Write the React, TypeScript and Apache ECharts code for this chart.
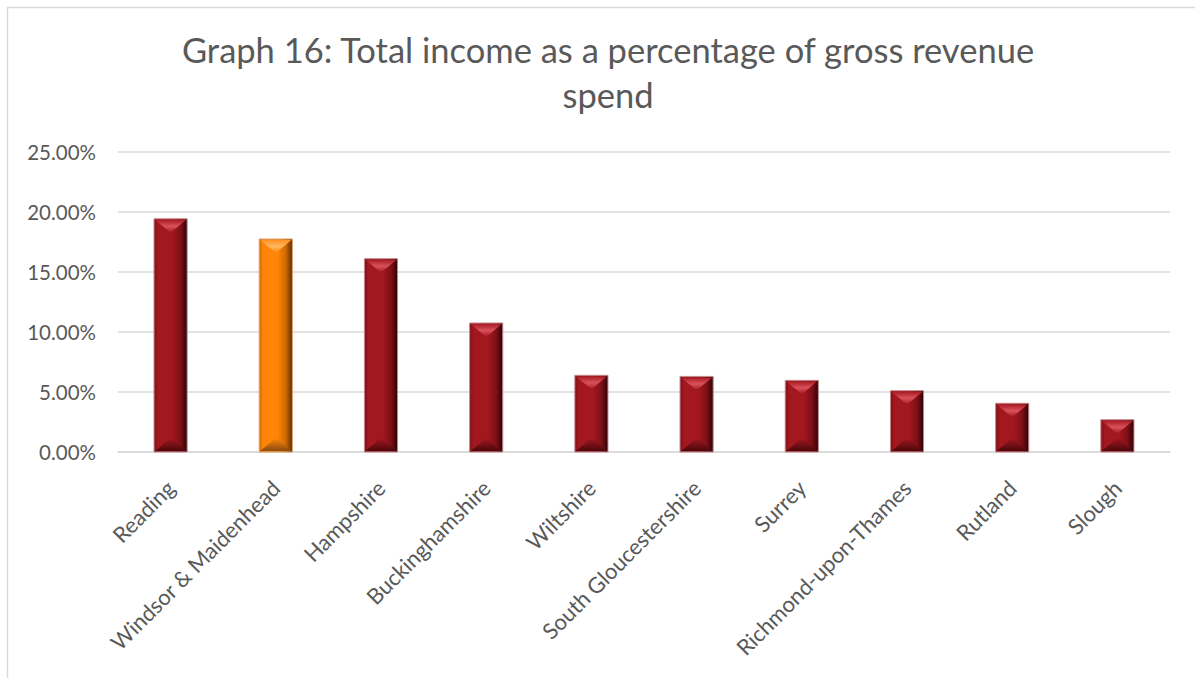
import React, { useEffect, useRef } from "react";
import * as echarts from "echarts";

const categories = [
  "Reading",
  "Windsor & Maidenhead",
  "Hampshire",
  "Buckinghamshire",
  "Wiltshire",
  "South Gloucestershire",
  "Surrey",
  "Richmond-upon-Thames",
  "Rutland",
  "Slough",
];
const values = [19.43, 17.75, 16.11, 10.75, 6.39, 6.3, 5.97, 5.11, 4.06, 2.69];
const highlighted = "Windsor & Maidenhead";
const yTicks = { min: 0, max: 25, interval: 5 };

const FONT = "Lato";
const TEXT = "#595959";

const palettes = {
  red: { left: "#7e1017", mid: "#a3171f", right: "#2c0306", top: "#d9525b", topMid: "#a81b24", bottom: "#4a080d", edge: "#c28a8d" },
  orange: { left: "#d06a00", mid: "#ff8508", right: "#5a2c00", top: "#ffb75e", topMid: "#ff9020", bottom: "#8a4a10", edge: "#d8a070" },
};

export default function App() {
  const ref = useRef<HTMLDivElement>(null);
  useEffect(() => {
    if (!ref.current) return;
    const chart = echarts.init(ref.current, undefined, { renderer: "svg" });
    const data = categories.map((c, i) => [i, values[i]]);
    const renderItem = (params: any, api: any) => {
      const idx = api.value(0);
      const val = api.value(1);
      const top = api.coord([idx, val]);
      const bot = api.coord([idx, 0]);
      const bw = api.size([1, 0])[0] * 0.315;
      const x0 = top[0] - bw / 2;
      const x1 = top[0] + bw / 2;
      const y0 = top[1];
      const y1 = bot[1];
      const h = y1 - y0;
      const bev = Math.min(bw * 0.42, h / 2);
      const p = categories[idx] === highlighted ? palettes.orange : palettes.red;
      return {
        type: "group",
        children: [
          {
            type: "rect",
            shape: { x: x0, y: y0, width: bw, height: h },
            style: {
              fill: new echarts.graphic.LinearGradient(0, 0, 1, 0, [
                { offset: 0, color: p.left },
                { offset: 0.12, color: p.mid },
                { offset: 0.55, color: p.mid },
                { offset: 0.8, color: p.left },
                { offset: 1, color: p.right },
              ]),
              stroke: p.edge,
              lineWidth: 1,
            },
          },
          {
            type: "polygon",
            shape: { points: [[x0 + 1, y0 + 1], [x1 - 1, y0 + 1], [top[0], y0 + bev]] },
            style: {
              fill: new echarts.graphic.LinearGradient(0, 0, 0, 1, [
                { offset: 0, color: p.topMid },
                { offset: 0.5, color: p.top },
                { offset: 1, color: p.mid },
              ]),
            },
          },
          {
            type: "polygon",
            shape: { points: [[x0 + 1, y1 - 1], [x1 - 1, y1 - 1], [top[0], y1 - bev]] },
            style: {
              fill: new echarts.graphic.LinearGradient(0, 0, 0, 1, [
                { offset: 0, color: p.mid },
                { offset: 1, color: p.bottom },
              ]),
            },
          },
        ],
      };
    };
    chart.setOption({
      animation: false,
      title: {
        text: "Graph 16: Total income as a percentage of gross revenue\nspend",
        left: 603,
        textAlign: "center",
        top: 22,
        textStyle: { fontFamily: FONT, fontSize: 34.5, fontWeight: "normal", color: TEXT, lineHeight: 45 },
      },
      graphic: [
        { type: "line", shape: { x1: 7.5, y1: 7, x2: 7.5, y2: 678 }, style: { stroke: "#d9d9d9", lineWidth: 1.5 } },
        { type: "line", shape: { x1: 7, y1: 7.5, x2: 1195, y2: 7.5 }, style: { stroke: "#d9d9d9", lineWidth: 1.5 } },
      ],
      grid: { left: 118, right: 25, top: 152, bottom: 226, containLabel: false },
      xAxis: {
        type: "category",
        data: categories,
        axisLine: { show: true, lineStyle: { color: "#d9d9d9", width: 1.5 } },
        axisTick: { show: false },
        axisLabel: { rotate: 45, interval: 0, margin: 32, fontFamily: FONT, fontSize: 22, color: TEXT },
      },
      yAxis: {
        type: "value",
        min: yTicks.min,
        max: yTicks.max,
        interval: yTicks.interval,
        axisLine: { show: false },
        axisTick: { show: false },
        splitLine: { lineStyle: { color: "#d9d9d9", width: 1.5 } },
        axisLabel: {
          margin: 22,
          fontFamily: FONT,
          fontSize: 20.5,
          color: TEXT,
          formatter: (v: number) => v.toFixed(2) + "%",
        },
      },
      series: [
        {
          type: "custom",
          renderItem,
          data,
          encode: { x: 0, y: 1 },
        },
      ],
    });
    return () => chart.dispose();
  }, []);
  return (
    <div
      ref={ref}
      style={{ position: "fixed", left: 0, top: 0, width: 1195, height: 678, background: "#fff" }}
    />
  );
}
